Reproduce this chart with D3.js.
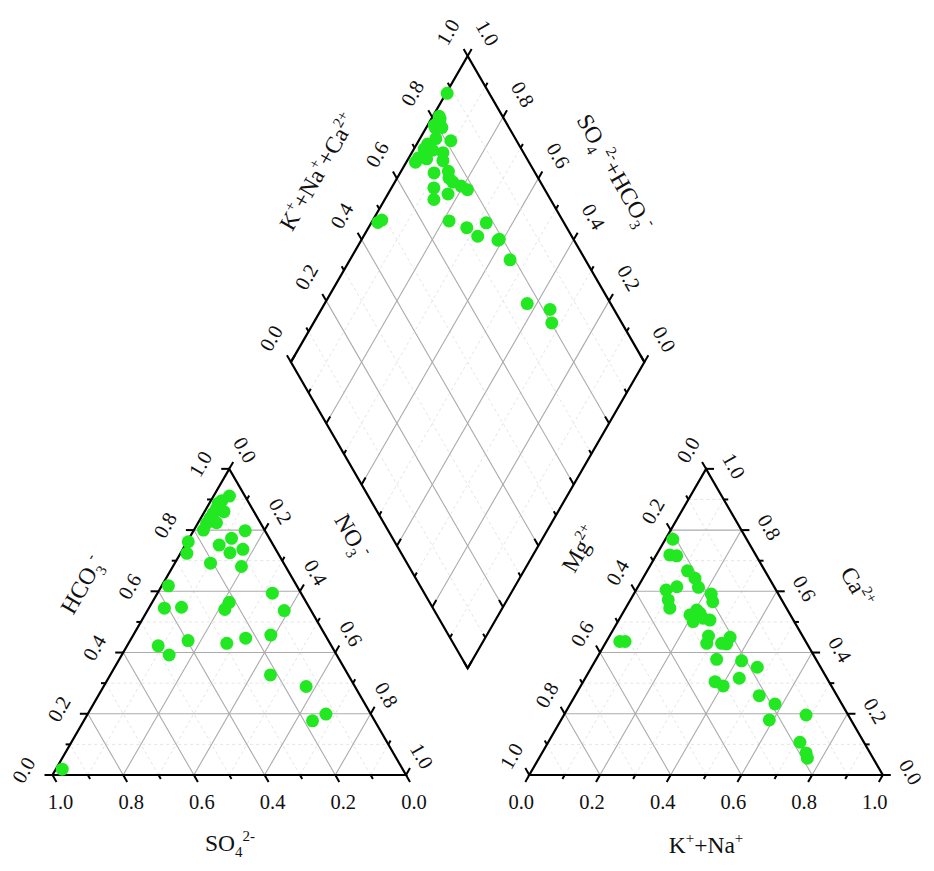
<!DOCTYPE html>
<html><head><meta charset="utf-8">
<script src="https://cdn.jsdelivr.net/npm/d3@7/dist/d3.min.js"></script>
<style>body{margin:0;background:#fff}svg{display:block}</style>
</head><body>
<svg id="chart" width="934" height="871"></svg>
<script>
// ---------------- data (fractions of meq) ----------------
const sampleIds = d3.range(1, 39);
const hco3 = [0.762,0.724,0.888,0.618,0.019,0.822,0.839,0.855,0.871,0.896,0.911,0.824,0.860,0.422,0.548,0.692,0.773,0.392,0.726,0.439,0.737,0.681,0.564,0.541,0.430,0.594,0.447,0.537,0.457,0.327,0.289,0.177,0.199,0.800,0.798,0.751,0.545,0.870];
const so4  = [0.235,0.258,0.087,0.363,0.963,0.153,0.135,0.118,0.100,0.073,0.044,0.124,0.085,0.490,0.361,0.207,0.107,0.474,0.135,0.397,0.093,0.125,0.218,0.242,0.292,0.081,0.230,0.076,0.154,0.220,0.138,0.176,0.127,0.173,0.056,0.153,0.411,0.100];
const no3  = [0.003,0.018,0.025,0.019,0.018,0.025,0.026,0.027,0.029,0.031,0.045,0.052,0.055,0.088,0.091,0.101,0.120,0.134,0.139,0.164,0.170,0.194,0.218,0.217,0.278,0.325,0.323,0.387,0.389,0.453,0.573,0.647,0.674,0.027,0.146,0.096,0.044,0.030];
const ca   = [0.196,0.352,0.107,0.450,0.436,0.436,0.572,0.291,0.615,0.539,0.716,0.523,0.528,0.428,0.055,0.430,0.604,0.719,0.545,0.316,0.378,0.180,0.667,0.305,0.430,0.259,0.454,0.613,0.643,0.373,0.506,0.072,0.566,0.770,0.512,0.501,0.591,0.232];
const mg   = [0.119,0.179,0.181,0.207,0.526,0.511,0.321,0.306,0.275,0.257,0.225,0.284,0.253,0.228,0.186,0.241,0.311,0.243,0.330,0.248,0.281,0.231,0.219,0.322,0.283,0.220,0.266,0.215,0.210,0.213,0.236,0.181,0.198,0.209,0.252,0.286,0.190,0.189];
const kna  = [0.685,0.469,0.712,0.343,0.038,0.053,0.107,0.403,0.110,0.204,0.059,0.193,0.219,0.344,0.759,0.329,0.085,0.038,0.125,0.436,0.341,0.589,0.114,0.373,0.287,0.521,0.280,0.172,0.147,0.414,0.258,0.747,0.236,0.021,0.236,0.213,0.219,0.579];

const majorTicks = [0, 0.2, 0.4, 0.6, 0.8, 1.0];
const allTicks = [0,0.1,0.2,0.3,0.4,0.5,0.6,0.7,0.8,0.9,1.0];
const gridSteps = [0.1,0.2,0.3,0.4,0.5,0.6,0.7,0.8,0.9];

const titleSO4 = [["SO",""],["4","sub"],["2-","sup"]];
const titleKNa = [["K",""],["+","sup"],["+Na",""],["+","sup"]];
const titleHCO3 = [["HCO",""],["3","sub"],["-","sup"]];
const titleNO3 = [["NO",""],["3","sub"],["-","sup"]];
const titleMg = [["Mg",""],["2+","sup"]];
const titleCa = [["Ca",""],["2+","sup"]];
const titleDiamondL = [["K",""],["+","sup"],["+Na",""],["+","sup"],["+Ca",""],["2+","sup"]];
const titleDiamondR = [["SO",""],["4","sub"],[" 2-","sup"],["+HCO",""],["3","sub"],["-","sup"]];

// ---------------- layout ----------------
const S = 353.5, H = S * Math.sqrt(3) / 2;
const baseY = 775, leftX0 = 52.5, rightX0 = 529.3;
const gap = rightX0 - (leftX0 + S);
const bx = leftX0 + S + gap / 2, by = baseY - gap * Math.sqrt(3) / 2;

const xL = d3.scaleLinear().domain([0, 1]).range([leftX0, leftX0 + S]);
const xR = d3.scaleLinear().domain([0, 1]).range([rightX0, rightX0 + S]);
const yT = d3.scaleLinear().domain([0, 1]).range([baseY, baseY - H]);
const xD = d3.scaleLinear().domain([-1, 1]).range([bx - S / 2, bx + S / 2]);
const yD = d3.scaleLinear().domain([0, 2]).range([by, by - 2 * H]);

// anion: a = HCO3 (apex), n = NO3 (bottom-right)
const PL = (a, n) => [xL(n + a / 2), yT(a)];
// cation: c = Ca (apex), k = K+Na (bottom-right)
const PR = (c, k) => [xR(k + c / 2), yT(c)];
// diamond: u = SO4+HCO3, v = K+Na+Ca
const PD = (u, v) => [xD(v - u), yD(u + v)];

const svg = d3.select("#chart");
const FONT = "'Liberation Serif','Times New Roman',serif";
const gGrid = svg.append("g"), gFrame = svg.append("g"), gText = svg.append("g"), gPts = svg.append("g");

const isMajor = t => Math.abs(Math.round(t * 10) % 2) === 0;

function seg(g, p, q, major) {
  g.append("line").attr("x1", p[0]).attr("y1", p[1]).attr("x2", q[0]).attr("y2", q[1])
    .attr("stroke", major ? "#ababab" : "#e2e2e2")
    .attr("stroke-width", major ? 1.1 : 0.9)
    .attr("stroke-dasharray", major ? null : "3,3");
}

gridSteps.forEach(t => {
  const m = isMajor(t);
  seg(gGrid, PL(t, 0), PL(t, 1 - t), m);
  seg(gGrid, PL(0, t), PL(1 - t, t), m);
  seg(gGrid, PL(0, 1 - t), PL(1 - t, 0), m);
  seg(gGrid, PR(t, 0), PR(t, 1 - t), m);
  seg(gGrid, PR(0, t), PR(1 - t, t), m);
  seg(gGrid, PR(0, 1 - t), PR(1 - t, 0), m);
  seg(gGrid, PD(t, 0), PD(t, 1), m);
  seg(gGrid, PD(0, t), PD(1, t), m);
});

// frames
const poly = pts => "M" + pts.map(p => p.join(",")).join("L") + "Z";
gFrame.append("path").attr("d", poly([PL(0, 0), PL(0, 1), PL(1, 0)]));
gFrame.append("path").attr("d", poly([PR(0, 0), PR(0, 1), PR(1, 0)]));
gFrame.append("path").attr("d", poly([PD(0, 0), PD(1, 0), PD(1, 1), PD(0, 1)]));
gFrame.selectAll("path").attr("fill", "none").attr("stroke", "#000").attr("stroke-width", 2.2).attr("stroke-linejoin", "miter");

const fmt = d3.format(".1f");
const DN = Math.sqrt(3) / 2;

function axis(pointFn, dir, labelOff, rot, labelFn) {
  allTicks.forEach(t => {
    const p = pointFn(t), m = isMajor(t), len = m ? 8 : 4.5;
    gFrame.append("line").attr("x1", p[0]).attr("y1", p[1])
      .attr("x2", p[0] + dir[0] * len).attr("y2", p[1] + dir[1] * len)
      .attr("stroke", "#000").attr("stroke-width", 2);
    if (m && labelOff) {
      gText.append("text")
        .attr("transform", `translate(${p[0] + labelOff[0]},${p[1] + labelOff[1]}) rotate(${rot})`)
        .attr("text-anchor", "middle").attr("dy", "0.35em")
        .attr("font-family", FONT).attr("font-size", 20.5).attr("fill", "#111")
        .text(fmt(labelFn(t)));
    }
  });
}

axis(t => PL(0, 1 - t), [0.5, DN], [8, 27], 0, t => t);          // SO4 bottom
axis(t => PL(t, 0), [-1, 0], [-29, -5], -60, t => t);            // HCO3 left
axis(t => PL(1 - t, t), [0.5, -DN], [16, -19], 60, t => t);      // NO3 right
axis(t => PR(0, t), [-0.5, DN], [-8, 27], 0, t => t);            // K+Na bottom
axis(t => PR(1 - t, 0), [-0.5, -DN], [-18, -19], -60, t => t);   // Mg left
axis(t => PR(t, 1 - t), [1, 0], [28, -3], 60, t => t);           // Ca right
axis(t => PD(1, t), [-0.5, -DN], [-20, -24], -60, t => t);       // K+Na+Ca upper-left
axis(t => PD(t, 1), [0.5, -DN], [20, -23], 60, t => t);          // SO4+HCO3 upper-right
axis(t => PD(t, 0), [0.5, -DN], null, 0, t => t);                // lower-left (inward)
axis(t => PD(0, t), [-0.5, -DN], null, 0, t => t);               // lower-right (inward)

function rich(parts, cx, cy, rot, fs) {
  const txt = gText.append("text")
    .attr("transform", `translate(${cx},${cy}) rotate(${rot})`)
    .attr("text-anchor", "middle").attr("font-family", FONT).attr("fill", "#111")
    .attr("font-size", fs).attr("y", fs * 0.33);
  let shift = 0;
  parts.forEach(([s, mode]) => {
    const target = mode === "sub" ? fs * 0.28 : mode === "sup" ? -fs * 0.42 : 0;
    txt.append("tspan").attr("dy", target - shift)
      .attr("font-size", mode ? fs * 0.64 : fs).text(s);
    shift = target;
  });
}
rich(titleSO4, 230, 843, 0, 23.5);
rich(titleKNa, 706, 845, 0, 23.5);
rich(titleHCO3, 82, 585, -60, 23.5);
rich(titleNO3, 352, 536, 60, 23.5);
rich(titleMg, 580, 549, -60, 23.5);
rich(titleCa, 857, 587, 60, 23.5);
rich(titleDiamondL, 318, 172, -60, 23.5);
rich(titleDiamondR, 615, 172, 60, 23.5);

const samples = sampleIds.map((id, i) => ({
  id, hco3: hco3[i], so4: so4[i], no3: no3[i], ca: ca[i], mg: mg[i], kna: kna[i]
}));
const R = 6.5, GREEN = "#22e822";
samples.forEach(d => {
  const pa = PL(d.hco3, d.no3);
  const pc = PR(d.ca, d.kna);
  const pd = PD(d.hco3 + d.so4, d.ca + d.kna);
  [pa, pc, pd].forEach(p => gPts.append("circle").attr("cx", p[0]).attr("cy", p[1]).attr("r", R).attr("fill", GREEN));
});
</script>
</body></html>
